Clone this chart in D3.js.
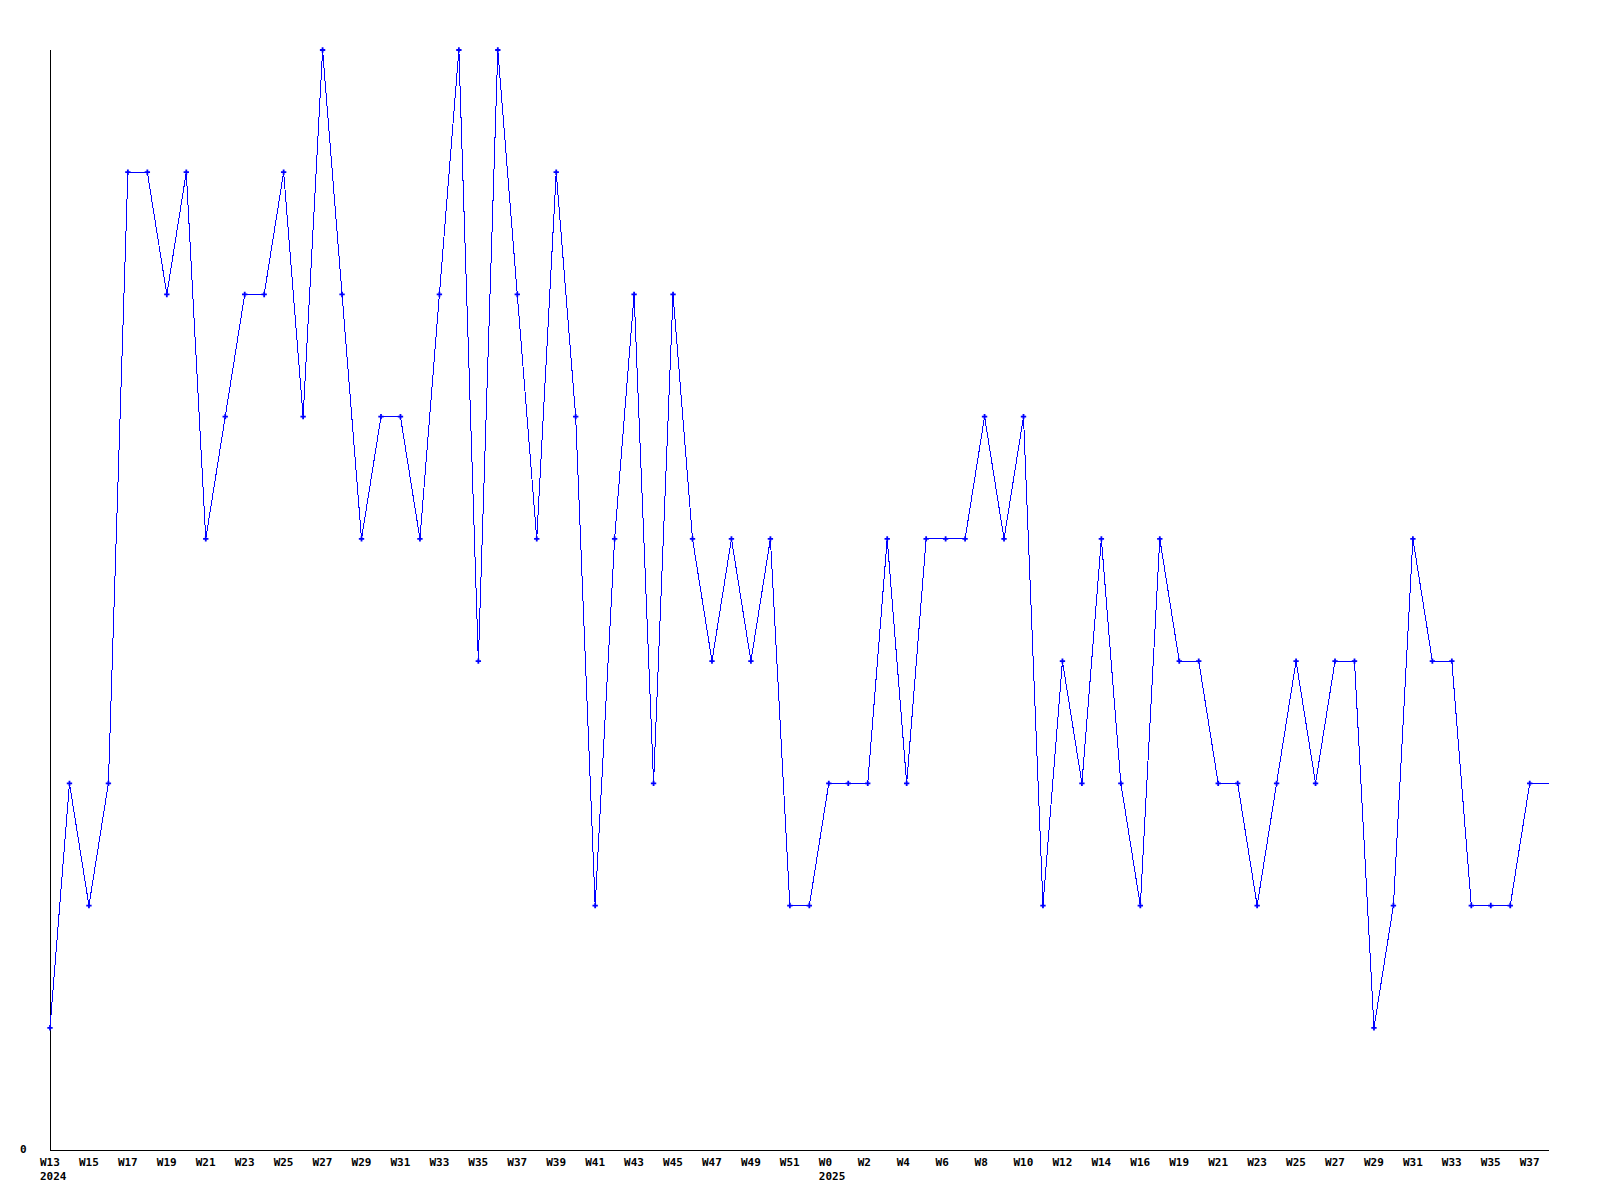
<!DOCTYPE html>
<html>
<head>
<meta charset="utf-8">
<script src="https://cdn.jsdelivr.net/npm/d3@7"></script>
<style>
  html, body { margin: 0; padding: 0; background: #fff; }
  .tick-label { font-family: "DejaVu Sans Mono", monospace; font-weight: bold; font-size: 11px; fill: #000; }
</style>
</head>
<body>
<div class="chart"></div>
<script>
// weeks shown on the x axis (one point per week)
const weeks = [
  "W13","W14","W15","W16","W17","W18","W19","W20","W21","W22","W23","W24","W25","W26",
  "W27","W28","W29","W30","W31","W32","W33","W34","W35","W36","W37","W38","W39","W40",
  "W41","W42","W43","W44","W45","W46","W47","W48","W49","W50","W51","W52",
  "W0","W1","W2","W3","W4","W5","W6","W7","W8","W9","W10","W11","W12","W13","W14","W15","W16",
  "W18","W19","W20","W21","W22","W23","W24","W25","W26","W27","W28","W29","W30","W31","W32",
  "W33","W34","W35","W36","W37","W38"
]
// year printed under the first week of each year
const years = { 0: "2024", 40: "2025" }
// weekly counts
const counts = [
  1,3,2,3,8,8,7,8,5,6,7,7,8,6,
  9,7,5,6,6,5,7,9,4,9,7,5,8,6,
  2,5,7,3,7,5,4,5,4,5,2,2,
  3,3,3,5,3,5,5,5,6,5,6,2,4,3,5,3,2,
  5,4,4,3,3,2,3,4,3,4,4,1,2,5,4,
  4,2,2,2,3,3
]
// the last week is still running: drawn in the line, no marker
const markedCount = counts.length - 1
const yMax = 9

const width = 1600, height = 1200
const margin = { top: 50, right: 50, bottom: 50, left: 50 }

const svg = d3.select(".chart")
  .append("svg")
  .attr("width", width)
  .attr("height", height)

const x = d3.scaleLinear()
  .domain([0, weeks.length - 1])
  .range([margin.left, margin.left + 19.47 * (weeks.length - 1)])

const y = d3.scaleLinear()
  .domain([0, yMax])
  .range([height - margin.bottom, margin.top])

// axes
svg.append("line")
  .attr("x1", x(0)).attr("x2", x(0))
  .attr("y1", y(yMax)).attr("y2", y(0))
  .attr("stroke", "#000").attr("stroke-width", 1)
  .attr("shape-rendering", "crispEdges")

svg.append("line")
  .attr("x1", x(0)).attr("x2", x(weeks.length - 1))
  .attr("y1", y(0)).attr("y2", y(0))
  .attr("stroke", "#000").attr("stroke-width", 1)
  .attr("shape-rendering", "crispEdges")

svg.append("text")
  .attr("class", "tick-label")
  .attr("x", 20)
  .attr("y", y(0) + 3)
  .text("0")

// x tick labels every second week
svg.selectAll(".week-label")
  .data(weeks.filter((d, i) => i % 2 === 0 && i < markedCount + 1).map((d, k) => ({ label: d, i: k * 2 })))
  .enter().append("text")
  .attr("class", "tick-label week-label")
  .attr("x", d => x(d.i) - 10)
  .attr("y", y(0) + 16)
  .text(d => d.label)

svg.selectAll(".year-label")
  .data(Object.entries(years))
  .enter().append("text")
  .attr("class", "tick-label year-label")
  .attr("x", d => x(+d[0]) - 10)
  .attr("y", y(0) + 30)
  .text(d => d[1])

// line
const line = d3.line()
  .x((d, i) => x(i))
  .y(d => y(d))

svg.append("path")
  .datum(counts)
  .attr("d", line)
  .attr("fill", "none")
  .attr("stroke", "#0000ff")
  .attr("stroke-width", 1)
  .attr("shape-rendering", "crispEdges")

// markers
svg.selectAll(".marker")
  .data(counts.slice(0, markedCount))
  .enter().append("path")
  .attr("class", "marker")
  .attr("d", d3.symbol().type(d3.symbolCross).size(16))
  .attr("transform", (d, i) => "translate(" + x(i) + "," + y(d) + ")")
  .attr("fill", "#0000ff")
</script>
</body>
</html>
